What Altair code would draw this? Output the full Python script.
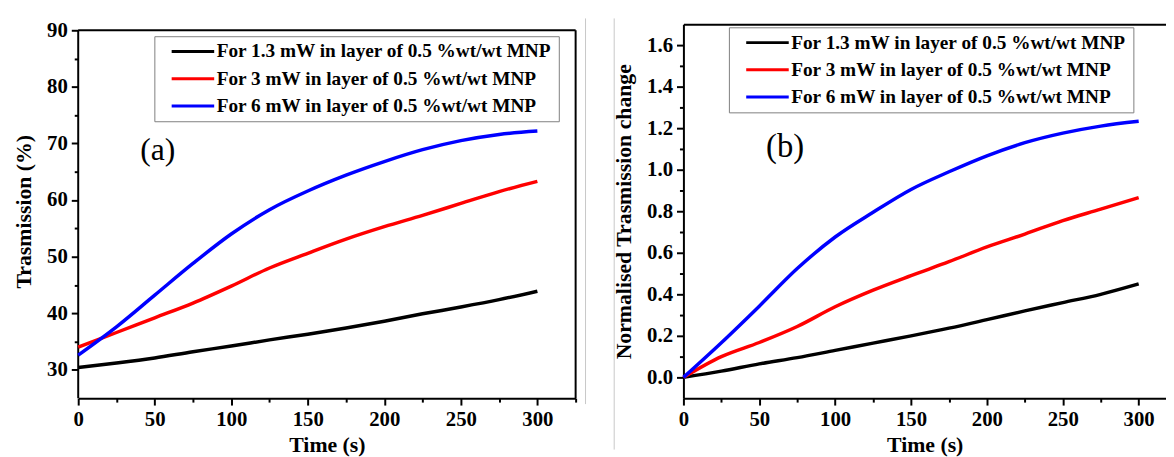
import altair as alt
import pandas as pd

# ---------------- data ----------------
time_s = [0, 25, 50, 75, 100, 125, 150, 175, 200, 225, 250, 275, 300]

trans_black = [30.4, 31.2, 32.1, 33.2, 34.2, 35.3, 36.3, 37.4, 38.6, 39.9, 41.1, 42.4, 43.9]
trans_red = [34.0, 36.6, 39.2, 41.8, 44.8, 48.0, 50.6, 53.1, 55.3, 57.3, 59.4, 61.5, 63.3]
trans_blue = [32.6, 37.6, 43.2, 48.8, 54.0, 58.3, 61.6, 64.4, 66.8, 68.9, 70.5, 71.6, 72.2]

norm_black = [0.0, 0.03, 0.065, 0.095, 0.13, 0.165, 0.20, 0.237, 0.278, 0.32, 0.36, 0.40, 0.45]
norm_red = [0.0, 0.10, 0.168, 0.245, 0.34, 0.42, 0.49, 0.557, 0.628, 0.69, 0.755, 0.81, 0.866]
norm_blue = [0.0, 0.167, 0.343, 0.524, 0.676, 0.795, 0.905, 0.99, 1.067, 1.13, 1.176, 1.21, 1.233]

series_labels = [
    "For 1.3 mW in layer of 0.5 %wt/wt MNP",
    "For 3 mW in layer of 0.5 %wt/wt MNP",
    "For 6 mW in layer of 0.5 %wt/wt MNP",
]
series_colors = ["#000000", "#ff0000", "#0000ff"]

x_ticks_a = [0, 25, 50, 75, 100, 125, 150, 175, 200, 225, 250, 275, 300, 325]
x_ticks_b = [0, 25, 50, 75, 100, 125, 150, 175, 200, 225, 250, 275, 300]
y_ticks_a = [30, 35, 40, 45, 50, 55, 60, 65, 70, 75, 80, 85, 90]
y_ticks_b = [0.0, 0.1, 0.2, 0.3, 0.4, 0.5, 0.6, 0.7, 0.8, 0.9, 1.0, 1.1, 1.2, 1.3, 1.4, 1.5, 1.6]

# frame of panel (a): x from 0 to 325, y from 25 to 90
frame_a_x = [0, 325]
frame_a_y = [25, 90]

panel_a_label = ["(a)"]
panel_a_pos = [[52, 68.8]]
panel_b_label = ["(b)"]
panel_b_pos = [[67, 1.11]]


def long_table(series_values):
    rows = []
    for lab, vals in zip(series_labels, series_values):
        for t, v in zip(time_s, vals):
            rows.append({"t": t, "v": v, "series": lab})
    return pd.DataFrame(rows)


df_a = long_table([trans_black, trans_red, trans_blue])
df_b = long_table([norm_black, norm_red, norm_blue])
lab_a = pd.DataFrame({"t": [p[0] for p in panel_a_pos], "v": [p[1] for p in panel_a_pos], "txt": panel_a_label})
lab_b = pd.DataFrame({"t": [p[0] for p in panel_b_pos], "v": [p[1] for p in panel_b_pos], "txt": panel_b_label})

# frame segments for panel (a): left, top, right
frame_a = pd.DataFrame({
    "t": [frame_a_x[0], frame_a_x[0], frame_a_x[1]],
    "t2": [frame_a_x[0], frame_a_x[1], frame_a_x[1]],
    "v": [frame_a_y[0], frame_a_y[1], frame_a_y[0]],
    "v2": [frame_a_y[1], frame_a_y[1], frame_a_y[1]],
})

FONT = "Liberation Serif"


def make_axis(values, test, orient, title, title_pad, fmt=None, domain=True):
    kw = dict(
        values=values,
        orient=orient,
        title=title,
        labelExpr=f"({test}) ? datum.label : ''",
        tickSize={"condition": {"test": test, "value": 7}, "value": 4},
        tickWidth=2,
        tickColor="black",
        domain=domain,
        domainColor="black",
        domainWidth=2,
        labelFont=FONT,
        labelFontWeight="bold",
        labelFontSize=21,
        labelColor="black",
        labelPadding=4,
        labelOverlap=False,
        labelFlush=False,
        titleFont=FONT,
        titleFontWeight="bold",
        titleFontSize=22,
        titleColor="black",
        titlePadding=title_pad,
        grid=False,
    )
    if fmt:
        kw["format"] = fmt
    return alt.Axis(**kw)


def make_legend(lx, ly):
    return alt.Legend(
        orient="none",
        legendX=lx,
        legendY=ly,
        title=None,
        symbolType="stroke",
        symbolSize=1849,
        symbolStrokeWidth=3,
        clipHeight=19,
        rowPadding=7.5,
        padding=6,
        symbolOffset=10,
        labelOffset=1,
        labelFont=FONT,
        labelFontWeight="bold",
        labelFontSize=19.5,
        labelColor="black",
        labelLimit=0,
        strokeColor="#808080",
        fillColor="white",
    )


# ---------------- panel (a) ----------------
xa_scale = alt.Scale(domain=[0, 325], nice=False, zero=False)
ya_scale = alt.Scale(domain=[25, 91.05], nice=False, zero=False)
xa_axis = make_axis(x_ticks_a, "datum.value % 50 === 0", "bottom", "Time (s)", 5)
ya_axis = make_axis(y_ticks_a, "datum.value % 10 === 0", "left", "Trasmission (%)", 11, domain=False)

lines_a = alt.Chart(df_a).mark_line(strokeWidth=3.5, interpolate="monotone").encode(
    x=alt.X("t:Q", scale=xa_scale, axis=xa_axis),
    y=alt.Y("v:Q", scale=ya_scale, axis=ya_axis),
    color=alt.Color("series:N", scale=alt.Scale(domain=series_labels, range=series_colors),
                    legend=make_legend(77, 12)),
    order=alt.Order("t:Q"),
)
frame_layer_a = alt.Chart(frame_a).mark_rule(color="black", strokeWidth=2).encode(
    x=alt.X("t:Q", scale=xa_scale, axis=xa_axis), x2="t2:Q",
    y=alt.Y("v:Q", scale=ya_scale, axis=ya_axis), y2="v2:Q",
)
text_a = alt.Chart(lab_a).mark_text(font=FONT, fontSize=32, color="black", align="center",
                                    baseline="middle").encode(
    x=alt.X("t:Q", scale=xa_scale, axis=xa_axis),
    y=alt.Y("v:Q", scale=ya_scale, axis=ya_axis), text="txt:N")

chart_a = alt.layer(frame_layer_a, lines_a, text_a).properties(width=503, height=378)

# ---------------- panel (b) ----------------
xb_scale = alt.Scale(domain=[0, 318], nice=False, zero=False)
yb_scale = alt.Scale(domain=[-0.1, 1.7], nice=False, zero=False)
xb_axis = make_axis(x_ticks_b, "datum.value % 50 === 0", "bottom", "Time (s)", 5)
yb_axis = make_axis(y_ticks_b, "round(datum.value * 10) % 2 === 0", "left",
                    "Normalised Trasmission change", 11, fmt=".1f")

lines_b = alt.Chart(df_b).mark_line(strokeWidth=3.5, interpolate="monotone").encode(
    x=alt.X("t:Q", scale=xb_scale, axis=xb_axis),
    y=alt.Y("v:Q", scale=yb_scale, axis=yb_axis),
    color=alt.Color("series:N", scale=alt.Scale(domain=series_labels, range=series_colors),
                    legend=make_legend(46, 3)),
    order=alt.Order("t:Q"),
)
text_b = alt.Chart(lab_b).mark_text(font=FONT, fontSize=33, color="black", align="center",
                                    baseline="middle").encode(
    x=alt.X("t:Q", scale=xb_scale,
            axis=alt.Axis(orient="top", labels=False, ticks=False, title=None, grid=False,
                          domainColor="black", domainWidth=2)),
    y=alt.Y("v:Q", scale=yb_scale, axis=yb_axis), text="txt:N")

# thin grey edges of the pasted figure between the two panels
edge_1 = alt.Chart(lab_b).mark_rule(color="#c8c8c8", strokeWidth=1).encode(
    x=alt.value(-99), y=alt.value(-6), y2=alt.value(384))
edge_2 = alt.Chart(lab_b).mark_rule(color="#c8c8c8", strokeWidth=1).encode(
    x=alt.value(-70), y=alt.value(-6), y2=alt.value(430))

chart_b = alt.layer(edge_1, edge_2, lines_b, text_b).properties(width=488, height=378)

chart = alt.hconcat(chart_a, chart_b, spacing=8).resolve_scale(color="independent").resolve_legend(
    color="independent").properties(
    padding={"left": 5, "top": 7, "right": 0, "bottom": 0},
    background="white",
).configure_view(strokeWidth=0)

chart.save("out.html", embed_options={"renderer": "svg", "actions": False})
